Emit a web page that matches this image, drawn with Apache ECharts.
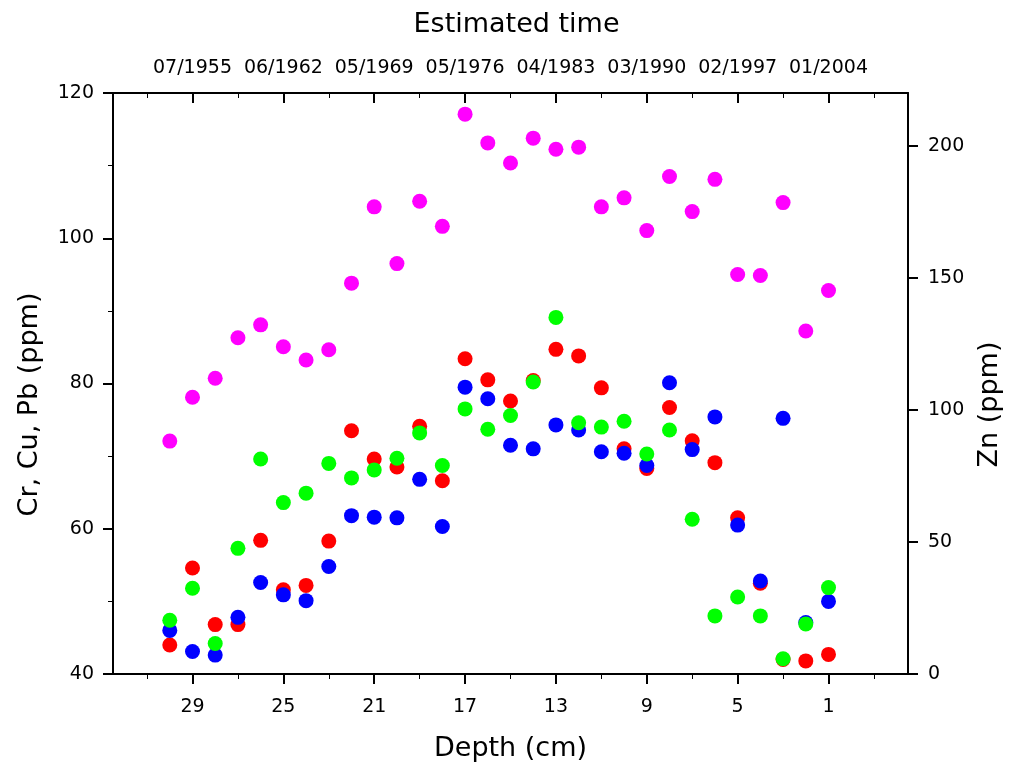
<!DOCTYPE html>
<html>
<head>
<meta charset="utf-8">
<script src="https://cdn.jsdelivr.net/npm/echarts@6.0.0/dist/echarts.min.js"></script>
<style>
    html, body { margin: 0; padding: 0; background: #fff; }
    #main { width: 1013px; height: 767px; }
</style>
</head>
<body>
<div id="main"></div>
<script>
// depth of each sample (cm), top of core = 1
var depths = [30, 29, 28, 27, 26, 25, 24, 23, 22, 21, 20, 19, 18, 17, 16, 15, 14, 13, 12, 11, 10, 9, 8, 7, 6, 5, 4, 3, 2, 1];

// left axis, ppm
var cr = [44.0, 54.6, 46.8, 46.8, 58.4, 51.6, 52.2, 58.3, 73.5, 69.6, 68.5, 74.1, 66.6, 83.4, 80.5, 77.6, 80.4, 84.7, 83.8, 79.4, 71.0, 68.3, 76.7, 72.1, 69.1, 61.5, 52.5, 42.0, 41.8, 42.7];
var cu = [46.0, 43.1, 42.6, 47.8, 52.6, 50.9, 50.1, 54.8, 61.8, 61.6, 61.5, 66.8, 60.3, 79.5, 77.9, 71.5, 71.0, 74.3, 73.6, 70.6, 70.4, 68.7, 80.1, 70.9, 75.4, 60.5, 52.8, 75.2, 47.1, 50.0];
var pb = [47.4, 51.8, 44.2, 57.3, 69.6, 63.6, 64.9, 69.0, 67.0, 68.1, 69.7, 73.2, 68.7, 76.5, 73.7, 75.6, 80.2, 89.1, 74.6, 74.0, 74.8, 70.3, 73.6, 61.3, 48.0, 50.6, 48.0, 42.1, 46.9, 51.9];
// right axis, ppm
var zn = [88.2, 104.8, 112.0, 127.3, 132.2, 123.9, 118.9, 122.8, 148.0, 176.9, 155.4, 179.0, 169.5, 212.0, 201.1, 193.5, 202.9, 198.7, 199.5, 176.9, 180.3, 167.9, 188.4, 175.1, 187.3, 151.3, 150.9, 178.5, 129.9, 145.2];

// axis ticks
var depthTicks = [29, 25, 21, 17, 13, 9, 5, 1];
var depthMinorTicks = [31, 27, 23, 19, 15, 11, 7, 3, -1];
var topDates = ['07/1955', '06/1962', '05/1969', '05/1976', '04/1983', '03/1990', '02/1997', '01/2004'];
var znTicks = [0, 50, 100, 150, 200];

function pairs(ys) {
    var out = [];
    for (var i = 0; i < depths.length; i++) {
        out.push([depths[i], ys[i]]);
    }
    return out;
}

var font = 'DejaVu Sans';
var lineStyle = { color: '#000', width: 2 };

var option = {
    backgroundColor: '#fff',
    animation: false,
    textStyle: { fontFamily: font, color: '#000' },
    grid: { left: 113, right: 105, top: 93, bottom: 90, containLabel: false },
    xAxis: [{
        type: 'value',
        position: 'bottom',
        min: -2.5,
        max: 32.5,
        inverse: true,
        name: 'Depth (cm)',
        nameLocation: 'middle',
        nameGap: 61,
        nameTextStyle: { fontSize: 27, color: '#000', fontFamily: font },
        splitLine: { show: false },
        axisLine: { onZero: false, lineStyle: lineStyle },
        axisTick: { inside: false, length: 10, lineStyle: lineStyle, customValues: depthTicks },
        axisLabel: { fontSize: 19, color: '#000', fontFamily: font, margin: 24, customValues: depthTicks }
    }, {
        // minor ticks bottom
        type: 'value',
        position: 'bottom',
        min: -2.5,
        max: 32.5,
        inverse: true,
        splitLine: { show: false },
        axisLine: { show: false, onZero: false },
        axisTick: { inside: false, length: 5, lineStyle: { color: '#000', width: 1 }, customValues: depthMinorTicks },
        axisLabel: { show: false }
    }, {
        type: 'value',
        position: 'top',
        min: -2.5,
        max: 32.5,
        inverse: true,
        name: 'Estimated time',
        nameLocation: 'middle',
        nameGap: 55,
        nameTextStyle: { fontSize: 27, color: '#000', fontFamily: font, padding: [0, 0, 0, 12] },
        splitLine: { show: false },
        axisLine: { onZero: false, lineStyle: lineStyle },
        axisTick: { inside: true, length: 10, lineStyle: lineStyle, customValues: depthTicks },
        axisLabel: {
            fontSize: 19, color: '#000', fontFamily: font, margin: 15,
            customValues: depthTicks,
            formatter: function(v) {
                var i = depthTicks.indexOf(v);
                return i >= 0 ? topDates[i] : '';
            }
        }
    }, {
        // minor ticks top
        type: 'value',
        position: 'top',
        min: -2.5,
        max: 32.5,
        inverse: true,
        splitLine: { show: false },
        axisLine: { show: false, onZero: false },
        axisTick: { inside: true, length: 5, lineStyle: { color: '#000', width: 1 }, customValues: depthMinorTicks },
        axisLabel: { show: false }
    }],
    yAxis: [{
        type: 'value',
        position: 'left',
        min: 40,
        max: 120,
        interval: 20,
        name: 'Cr, Cu, Pb (ppm)',
        nameLocation: 'middle',
        nameGap: 70,
        nameTextStyle: { fontSize: 27, color: '#000', fontFamily: font, padding: [0, 42, 0, 0] },
        splitLine: { show: false },
        axisLine: { show: true, onZero: false, lineStyle: lineStyle },
        axisTick: { show: true, inside: false, length: 10, lineStyle: lineStyle },
        minorTick: { show: true, splitNumber: 2, length: 5, lineStyle: { color: '#000', width: 1 } },
        axisLabel: { fontSize: 19, color: '#000', fontFamily: font, margin: 19 }
    }, {
        type: 'value',
        position: 'right',
        min: 0,
        max: 220,
        name: 'Zn (ppm)',
        nameLocation: 'middle',
        nameGap: 68,
        nameTextStyle: { fontSize: 27, color: '#000', fontFamily: font, padding: [0, 42, 0, 0] },
        splitLine: { show: false },
        axisLine: { show: true, onZero: false, lineStyle: lineStyle },
        axisTick: { show: true, inside: false, length: 10, lineStyle: lineStyle, customValues: znTicks },
        axisLabel: { fontSize: 19, color: '#000', fontFamily: font, margin: 20, customValues: znTicks }
    }],
    series: [{
        name: 'Cr',
        type: 'scatter',
        xAxisIndex: 0,
        yAxisIndex: 0,
        symbolSize: 15,
        itemStyle: { color: '#ff0000', opacity: 1 },
        data: pairs(cr)
    }, {
        name: 'Cu',
        type: 'scatter',
        xAxisIndex: 0,
        yAxisIndex: 0,
        symbolSize: 15,
        itemStyle: { color: '#0000ff', opacity: 1 },
        data: pairs(cu)
    }, {
        name: 'Pb',
        type: 'scatter',
        xAxisIndex: 0,
        yAxisIndex: 0,
        symbolSize: 15,
        itemStyle: { color: '#00ff00', opacity: 1 },
        data: pairs(pb)
    }, {
        name: 'Zn',
        type: 'scatter',
        xAxisIndex: 0,
        yAxisIndex: 1,
        symbolSize: 15,
        itemStyle: { color: '#ff00ff', opacity: 1 },
        data: pairs(zn)
    }]
};

var myChart = echarts.init(document.getElementById('main'), null, { renderer: 'canvas' });
myChart.setOption(option);
</script>
</body>
</html>
